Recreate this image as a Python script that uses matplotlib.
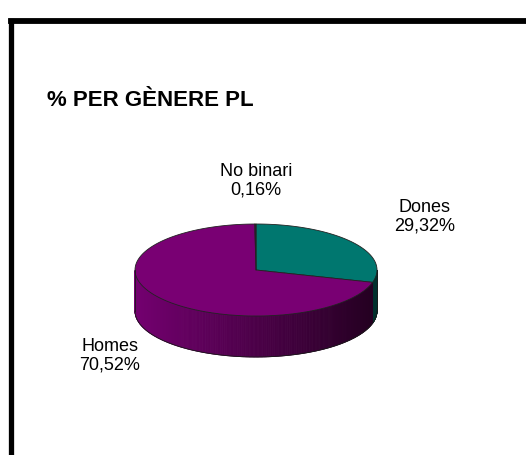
import numpy as np
import matplotlib.pyplot as plt
from matplotlib.patches import Polygon
from matplotlib.lines import Line2D
from matplotlib.colors import to_rgb

# data
labels = ['Dones', 'Homes', 'No binari']
values = [29.32, 70.52, 0.16]
value_text = ['29,32%', '70,52%', '0,16%']
title = '% PER GÈNERE PL'

top_colors = ['#00776f', '#790073', '#4a0046']
side_light = ['#005a54', '#740070', '#4a0046']
side_dark = ['#00302d', '#230020', '#230020']

plt.rcParams['font.family'] = ['Liberation Sans Narrow', 'Liberation Sans', 'DejaVu Sans']

W, H = 526, 456
fig = plt.figure(figsize=(W / 100, H / 100), dpi=100)
ax = fig.add_axes([0, 0, 1, 1])
ax.set_xlim(0, W)
ax.set_ylim(H, 0)
ax.axis('off')

# pie geometry (pixel units)
cx, cy = 256, 271
rx, ry = 121, 46
depth = 41


def ell(t):
    return cx + rx * np.cos(t), cy - ry * np.sin(t)


# slice angles, clockwise from 12 o'clock
fr = np.array(values) / np.sum(values)
ends = np.pi / 2 - 2 * np.pi * np.cumsum(fr)
starts = np.concatenate([[np.pi / 2], ends[:-1]])

# side walls (front half only), shaded darker to the right
for i in range(len(values)):
    a_hi, a_lo = starts[i], ends[i]
    ts = np.linspace(a_lo, a_hi, 400)
    for t0, t1 in zip(ts[:-1], ts[1:]):
        tm = 0.5 * (t0 + t1)
        if np.sin(tm) >= 0:
            continue
        x0, y0 = ell(t0)
        x1, y1 = ell(t1)
        f = np.clip((0.5 * (x0 + x1) - (cx - rx)) / (2 * rx), 0, 1)
        c = (1 - f) * np.array(to_rgb(side_light[i])) + f * np.array(to_rgb(side_dark[i]))
        ax.add_patch(Polygon([(x0, y0), (x1, y1), (x1, y1 + depth), (x0, y0 + depth)],
                             closed=True, facecolor=c, edgecolor=c, lw=0.6))

# side outline
tb = np.linspace(np.pi, 2 * np.pi, 200)
bx, by = ell(tb)
ax.plot(bx, by + depth, color='#1a1a1a', lw=0.6)
ax.plot([cx - rx, cx - rx], [cy, cy + depth], color='#1a1a1a', lw=0.6)
ax.plot([cx + rx, cx + rx], [cy, cy + depth], color='#1a1a1a', lw=0.6)

# top faces
for i in range(len(values)):
    ts = np.linspace(starts[i], ends[i], 300)
    px, py = ell(ts)
    pts = [(cx, cy)] + list(zip(px, py))
    ax.add_patch(Polygon(pts, closed=True, facecolor=top_colors[i],
                         edgecolor='#222222', lw=0.6, joinstyle='round'))

# labels
label_pos = [(425, 217), (110, 356), (256, 181)]
for lab, txt, (lx, ly) in zip(labels, value_text, label_pos):
    ax.text(lx, ly, lab + '\n' + txt, ha='center', va='center',
            fontsize=13, color='black', linespacing=1.1)

ax.text(47, 101, title, ha='left', va='center', fontsize=16,
        fontweight='bold', color='black')

# frame (top and left edges only visible)
ax.add_line(Line2D([10.5, W + 5], [21.5, 21.5], color='black', lw=4.2,
                   solid_capstyle='projecting'))
ax.add_line(Line2D([10.5, 10.5], [21.5, H + 5], color='black', lw=3.8,
                   solid_capstyle='projecting'))

fig.savefig('out.png', dpi=100, facecolor='white')
